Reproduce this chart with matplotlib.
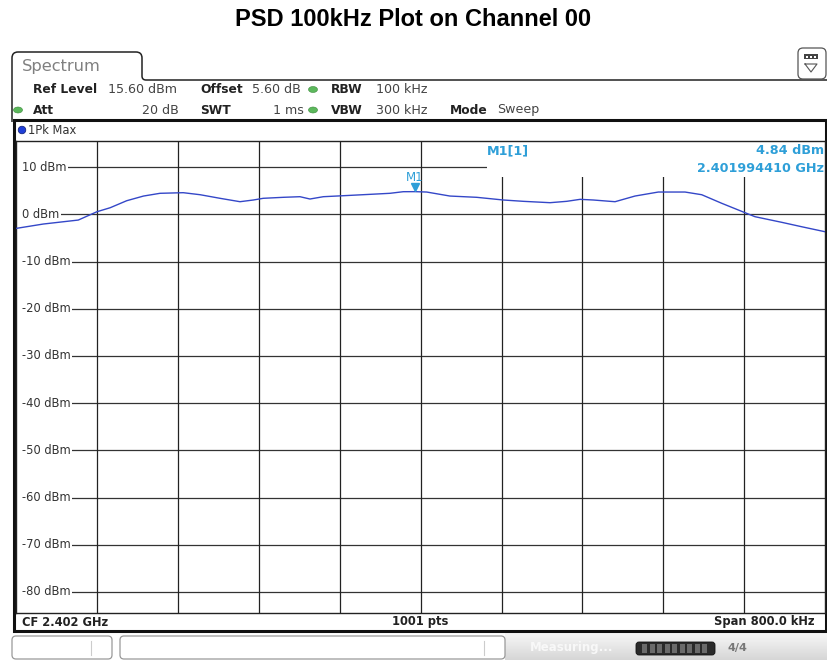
import matplotlib
matplotlib.use("Agg")
import matplotlib.pyplot as plt
import numpy as np
from matplotlib.patches import FancyBboxPatch, Rectangle, Ellipse, Circle
from matplotlib.path import Path
from matplotlib.patches import PathPatch

# trace: offset from CF in kHz, level in dBm
freq_khz = [-400, -373, -338.5, -320, -307, -290.6, -274, -257.7, -234.7, -218, -198.4,
            -178.6, -165.4, -155.6, -135.8, -119.3, -109.4, -96.2, -76.4, -50, -30.3, -17.1,
            -5.6, 6, 29, 55.5, 81.8, 101.6, 128, 144.5, 157.7, 170.8, 187.3, 192.3, 212,
            235.1, 261.5, 278, 297.8, 320.8, 330.7, 357.1, 376.9, 400]
level_dbm = [-2.95, -2.02, -1.18, 0.59, 1.43, 2.92, 3.91, 4.49, 4.62, 4.19, 3.43,
             2.71, 3.07, 3.43, 3.64, 3.77, 3.28, 3.77, 3.98, 4.27, 4.49, 4.83,
             4.84, 4.76, 3.91, 3.64, 3.07, 2.79, 2.5, 2.79, 3.21, 3.07, 2.79, 2.71, 3.91,
             4.76, 4.76, 4.19, 2.37, 0.38, -0.47, -1.66, -2.6, -3.66]

ref_level = 15.60
y_ticks = [10, 0, -10, -20, -30, -40, -50, -60, -70, -80]
y_labels = ["10 dBm", "0 dBm", "-10 dBm", "-20 dBm", "-30 dBm", "-40 dBm",
            "-50 dBm", "-60 dBm", "-70 dBm", "-80 dBm"]
x_grid = [-320, -240, -160, -80, 0, 80, 160, 240, 320]

marker_freq = -5.59
marker_level = 4.84

header_1 = [("Ref Level", 33, True), ("15.60 dBm", 108, False), ("Offset", 200, True),
            ("5.60 dB", 252, False), ("RBW", 331, True), ("100 kHz", 376, False)]
header_2 = [("Att", 33, True), ("SWT", 200, True), ("VBW", 331, True),
            ("300 kHz", 376, False), ("Mode", 450, True), ("Sweep", 497, False)]

W, H = 827, 660
fig = plt.figure(figsize=(W / 100, H / 100), dpi=100)
fig.patch.set_facecolor("white")

# pixel overlay for the instrument frame
ov = fig.add_axes([0, 0, 1, 1])
ov.set_xlim(0, W)
ov.set_ylim(H, 0)
ov.axis("off")

ov.text(413, 19, "PSD 100kHz Plot on Channel 00", ha="center", va="center",
        fontsize=17, fontweight="bold", family=["Liberation Sans", "DejaVu Sans"])

# tab outline
verts = [(12, 122), (12, 58), (12, 52), (18, 52), (136, 52), (142, 52), (142, 58),
         (142, 76), (142, 80), (146, 80), (W, 80)]
codes = [Path.MOVETO, Path.LINETO, Path.CURVE3, Path.CURVE3, Path.LINETO, Path.CURVE3,
         Path.CURVE3, Path.LINETO, Path.CURVE3, Path.CURVE3, Path.LINETO]
ov.add_patch(PathPatch(Path(verts, codes), fill=False, lw=1.1, edgecolor="#222"))
ov.text(22, 66, "Spectrum", ha="left", va="center", fontsize=11.7, color="#808080")

# icon top right
ov.add_patch(FancyBboxPatch((798, 48), 28, 31, boxstyle="round,pad=0,rounding_size=5",
                            facecolor="white", edgecolor="#555", lw=0.9))
ov.add_patch(Rectangle((804, 54), 14, 5, facecolor="#444", edgecolor="none"))
for k in range(3):
    ov.add_patch(Rectangle((806 + k * 4, 55.5), 2, 2, facecolor="white", edgecolor="none"))
ov.plot([805, 817, 811, 805], [64, 64, 72, 64], color="#555", lw=0.8)

# header lines
for row_y, row in [(89.5, header_1), (110, header_2)]:
    for txt, x, b in row:
        ov.text(x, row_y, txt, ha="left", va="center", fontsize=8.8 if b else 9.1,
                fontweight="bold" if b else "normal", color="#222" if b else "#444")
ov.text(179, 110, "20 dB", ha="right", va="center", fontsize=9.1, color="#444")
ov.text(304, 110, "1 ms", ha="right", va="center", fontsize=9.1, color="#444")
for cx, cy in [(18, 110), (313, 89.5), (313, 110)]:
    ov.add_patch(Ellipse((cx, cy), 9, 6, facecolor="#5cb85c", edgecolor="#3d8b3d", lw=0.4))

# diagram frame
ov.add_patch(Rectangle((13.5, 120), 812.5, 511, fill=False, lw=2.2, edgecolor="#111"))
ov.add_patch(Circle((22, 130), 3.8, facecolor="#1f3fd8", edgecolor="#0a1a70", lw=0.5))
ov.text(28, 130, "1Pk Max", ha="left", va="center", fontsize=8.3, color="#333")

# footer
ov.text(22, 622, "CF 2.402 GHz", ha="left", va="center", fontsize=8.3, fontweight="bold", color="#222")
ov.text(420, 622, "1001 pts", ha="center", va="center", fontsize=8.3, fontweight="bold", color="#222")
ov.text(815, 622, "Span 800.0 kHz", ha="right", va="center", fontsize=8.3, fontweight="bold", color="#222")

# status bar
shade = np.linspace(0.97, 0.84, 40)
grad = np.dstack([shade, shade, shade]).reshape(-1, 1, 3)
ov.imshow(grad, extent=(505, W, H, 633), aspect="auto", zorder=0)
ov.add_patch(FancyBboxPatch((12, 636), 100, 23, boxstyle="round,pad=0,rounding_size=4",
                            facecolor="white", edgecolor="#999", lw=0.9))
ov.plot([91, 91], [641, 655], color="#ccc", lw=0.8)
ov.add_patch(FancyBboxPatch((120, 636), 385, 23, boxstyle="round,pad=0,rounding_size=4",
                            facecolor="white", edgecolor="#999", lw=0.9))
ov.plot([484, 484], [641, 655], color="#ccc", lw=0.8)
ov.text(530, 648, "Measuring...", ha="left", va="center", fontsize=8.5, color="#f8f8f8", fontweight="bold")
ov.add_patch(FancyBboxPatch((636, 642), 79, 13, boxstyle="round,pad=0,rounding_size=3",
                            facecolor="#2a2a2a", edgecolor="#111", lw=0.6))
for k in range(9):
    ov.add_patch(Rectangle((642 + k * 7.5, 644), 5, 9, facecolor="#6a6a6a", edgecolor="none"))
ov.text(737, 648, "4/4", ha="center", va="center", fontsize=8, color="#777", fontweight="bold")

# spectrum grid area
ax = fig.add_axes([16.1 / W, (H - 612.6) / H, 809 / W, 471.7 / H])
ax.set_zorder(2)
ax.set_xlim(-400, 400)
ax.set_ylim(ref_level - 100, ref_level)
ax.set_xticks([])
ax.set_yticks([])
for s in ax.spines.values():
    s.set_color("#222")
    s.set_linewidth(1.0)

for yv in y_ticks:
    ax.axhline(yv, color="#333", lw=0.9, zorder=1)
for xv in x_grid:
    ax.axvline(xv, color="#222", lw=0.9, zorder=1)

# marker info area blanks the grid at top right, labels sit on a clear strip at left
ax.add_patch(Rectangle(((487 - 16.1) / 809, (612.6 - 177) / 471.7), 1, 1,
                       transform=ax.transAxes, facecolor="white", edgecolor="none", zorder=1.5))
ax.add_patch(Rectangle((0, 0.002), 7 / 809, 0.99,
                       transform=ax.transAxes, facecolor="white", edgecolor="none", zorder=1.5))

for yv, lab in zip(y_ticks, y_labels):
    ax.text(6 / 809, yv, lab, transform=ax.get_yaxis_transform(), ha="left", va="center",
            fontsize=8.3, color="#333", zorder=2,
            bbox=dict(facecolor="white", edgecolor="none", pad=1.2))

ax.plot(freq_khz, level_dbm, color="#3447c8", lw=1.0, zorder=3)

mk = "#2e9fd8"
ax.plot([marker_freq], [marker_level + 0.9], marker="v", color=mk, markersize=6, zorder=4)
ax.text(marker_freq, marker_level + 2.95, "M1", ha="center", va="center", fontsize=8.5, color=mk, zorder=4)

ax.text((487 - 16.1) / 809, (612.6 - 151) / 471.7, "M1[1]", transform=ax.transAxes,
        ha="left", va="center", fontsize=9.2, fontweight="bold", color=mk, zorder=4)
ax.text(0.999, (612.6 - 151) / 471.7, "4.84 dBm", transform=ax.transAxes,
        ha="right", va="center", fontsize=9.2, fontweight="bold", color=mk, zorder=4)
ax.text(0.999, (612.6 - 168.5) / 471.7, "2.401994410 GHz", transform=ax.transAxes,
        ha="right", va="center", fontsize=9.2, fontweight="bold", color=mk, zorder=4)

fig.savefig("out.png", dpi=100)
